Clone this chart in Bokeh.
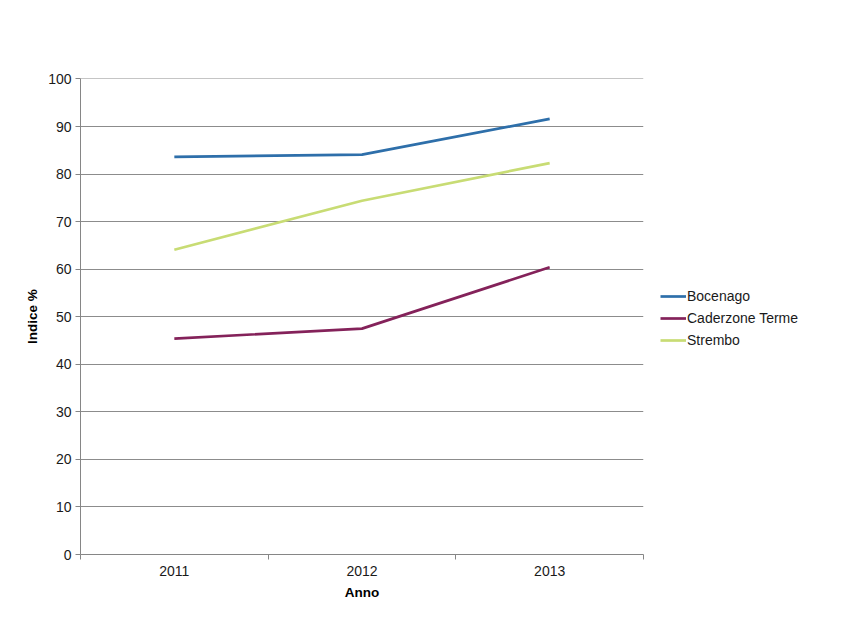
import numpy as np
from bokeh.plotting import figure
from bokeh.layouts import row
from bokeh.models import Range1d, FixedTicker, Legend, LegendItem
from bokeh.embed import file_html
from bokeh.resources import INLINE

years = ["2011", "2012", "2013"]
bocenago = [83.6, 84.1, 91.6]
caderzone = [45.4, 47.5, 60.4]
strembo = [64.1, 74.4, 82.3]
series_names = ["Bocenago", "Caderzone Terme", "Strembo"]
colors = ["#2E6FAA", "#84225A", "#C8DC74"]
y_ticks = list(range(0, 101, 10))

n = len(years)
xs = list(np.arange(n) + 0.5)
font = "Liberation Sans"

p = figure(frame_width=563, frame_height=476, output_backend="svg", toolbar_location=None,
           x_range=Range1d(0, n), y_range=Range1d(0, 100.1),
           min_border_left=80, min_border_top=78, min_border_right=5, min_border_bottom=40)
p.outline_line_color = None
p.background_fill_color = "white"
p.border_fill_color = "white"
p.xgrid.grid_line_color = None
p.ygrid.grid_line_color = "#8C8C8C"
p.ygrid.grid_line_width = 1

for vals, c in zip([bocenago, caderzone, strembo], colors):
    p.line(xs, vals, line_color=c, line_width=2.7)

# x axis
p.xaxis.ticker = FixedTicker(ticks=xs, minor_ticks=list(range(n + 1)))
p.xaxis.major_label_overrides = {x: y for x, y in zip(xs, years)}
p.xaxis.major_tick_out = 0
p.xaxis.major_tick_in = 0
p.xaxis.minor_tick_out = 5
p.xaxis.minor_tick_in = 0
p.xaxis.minor_tick_line_color = "#868686"
p.xaxis.axis_line_color = "#868686"
p.xaxis.major_label_standoff = 6
p.xaxis.axis_label = "Anno"
p.xaxis.axis_label_standoff = 6

# y axis
p.yaxis.ticker = FixedTicker(ticks=y_ticks, minor_ticks=[])
p.yaxis.major_tick_out = 5
p.yaxis.major_tick_in = 0
p.yaxis.major_tick_line_color = "#868686"
p.yaxis.axis_line_color = "#868686"
p.yaxis.major_label_standoff = 4
p.yaxis.axis_label = "Indice %"
p.yaxis.axis_label_standoff = 5

for ax in (p.xaxis, p.yaxis):
    ax.major_label_text_font = font
    ax.major_label_text_font_size = "14px"
    ax.major_label_text_color = "#1a1a1a"
    ax.axis_label_text_font = font
    ax.axis_label_text_font_size = "13.5px"
    ax.axis_label_text_font_style = "bold"
    ax.axis_label_text_color = "#000000"

# legend panel to the right of the plot
q = figure(width=190, frame_height=476, output_backend="svg", toolbar_location=None,
           x_range=Range1d(0, 1), y_range=Range1d(0, 1),
           x_axis_location=None, y_axis_location=None,
           min_border_left=0, min_border_top=78, min_border_right=0, min_border_bottom=40)
q.outline_line_color = None
q.xgrid.grid_line_color = None
q.ygrid.grid_line_color = None
q.border_fill_color = "white"
q.background_fill_color = "white"

# invisible key renderers (NaN data) that only supply the legend swatches
keys = [q.line([np.nan], [np.nan], line_color=c, line_width=2.7) for c in colors]
legend = Legend(items=[LegendItem(label=nm, renderers=[r]) for nm, r in zip(series_names, keys)],
                location=(12, 204))
legend.border_line_color = None
legend.background_fill_alpha = 0
legend.margin = 0
legend.padding = 10
legend.spacing = 2
legend.glyph_width = 26
legend.glyph_height = 20
legend.label_standoff = 1
legend.label_text_font = font
legend.label_text_font_size = "14px"
legend.label_text_color = "#1a1a1a"
q.add_layout(legend)

layout = row(p, q)
open("out.html", "w").write(file_html(layout, INLINE))
